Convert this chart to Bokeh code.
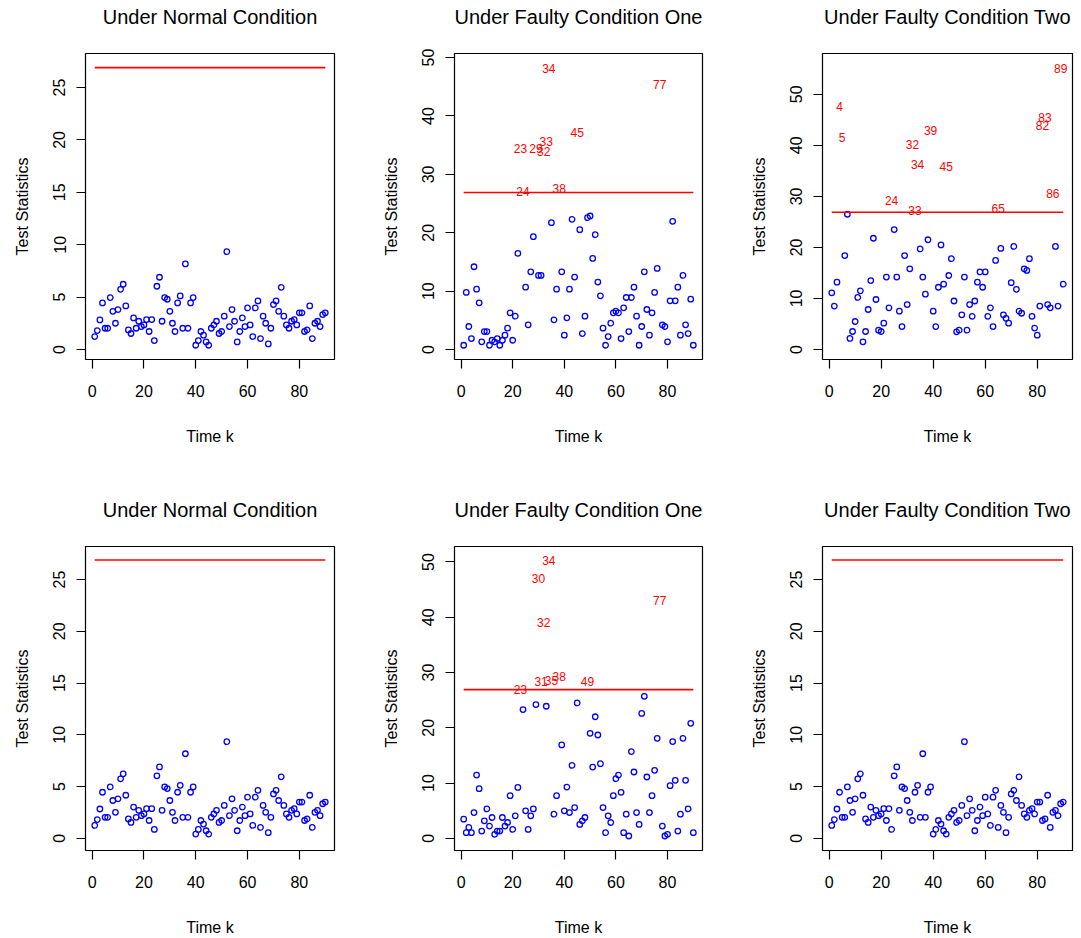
import numpy as np
from bokeh.plotting import figure
from bokeh.layouts import column, row
from bokeh.models import Range1d, FixedTicker, ColumnDataSource, Title
from bokeh.embed import file_html
from bokeh.resources import INLINE
from bokeh.core.properties import value

# ---------------- data ----------------
time_k = list(range(1, 91))
threshold = 26.9

x_ticks = [0, 20, 40, 60, 80]
y_ticks_small = [0, 5, 10, 15, 20, 25]
y_ticks_large = [0, 10, 20, 30, 40, 50]

title_normal = "Under Normal Condition"
title_fault_one = "Under Faulty Condition One"
title_fault_two = "Under Faulty Condition Two"
x_label = "Time k"
y_label = "Test Statistics"

normal_stats = [
    1.24, 1.81, 2.83, 4.45, 2.03, 2.03, 4.96, 3.65, 2.51, 3.81,
    5.75, 6.23, 4.16, 1.87, 1.53, 3.02, 2.03, 2.70, 2.19, 2.35,
    2.86, 1.72, 2.86, 0.86, 6.04, 6.90, 2.70, 4.96, 4.80, 3.65,
    2.51, 1.72, 4.45, 5.12, 2.03, 8.17, 2.03, 4.45, 4.96, 0.41,
    0.86, 1.72, 1.37, 0.73, 0.41, 2.03, 2.35, 2.70, 1.53, 1.72,
    3.18, 9.34, 2.19, 3.81, 2.70, 0.73, 1.72, 3.02, 2.19, 3.97,
    2.35, 1.24, 3.97, 4.64, 1.05, 3.18, 2.51, 0.54, 2.03, 4.29,
    4.64, 3.65, 5.94, 3.18, 2.35, 2.03, 2.70, 2.86, 2.35, 3.50,
    3.50, 1.72, 1.87, 4.16, 1.05, 2.51, 2.70, 2.19, 3.34, 3.50,
]

fault_one_top = [
    0.74, 9.78, 3.95, 1.89, 14.18, 10.35, 8.00, 1.32, 3.09, 3.09,
    0.74, 1.60, 1.32, 1.89, 0.74, 1.60, 2.46, 3.66, 6.29, 1.60,
    5.72, 16.47, 34.4, 27.1, 10.69, 4.23, 13.32, 19.33, 34.4, 12.69,
    12.69, 33.85, 35.68, 48.08, 21.73, 5.09, 10.35, 27.6, 13.32, 2.46,
    5.43, 10.35, 22.3, 12.41, 37.1, 20.53, 2.74, 5.72, 22.58, 22.87,
    15.61, 19.67, 11.55, 9.21, 3.66, 0.74, 2.23, 4.52, 6.29, 6.58,
    6.29, 1.89, 7.15, 8.92, 3.09, 8.92, 10.69, 5.72, 0.74, 3.95,
    13.32, 6.86, 2.46, 6.29, 9.78, 13.89, 45.4, 4.23, 3.95, 1.32,
    8.35, 21.96, 8.35, 10.69, 2.46, 12.69, 4.23, 2.74, 8.63, 0.74,
]

fault_two_top = [
    11.1, 8.5, 13.2, 47.6, 41.6, 18.4, 26.5, 2.16, 3.53, 5.49,
    10.2, 11.5, 1.5, 3.53, 7.84, 13.5, 21.8, 9.8, 3.79, 3.53,
    5.16, 14.2, 8.17, 29.2, 23.5, 14.2, 7.5, 4.5, 18.4, 8.8,
    15.8, 40.1, 27.2, 36.2, 19.7, 14.2, 10.85, 21.5, 42.9, 7.5,
    4.5, 12.2, 20.5, 12.8, 35.8, 14.5, 17.8, 9.5, 3.46, 3.79,
    6.8, 14.2, 3.79, 8.8, 6.5, 9.5, 13.2, 15.2, 12.2, 15.2,
    6.5, 8.17, 4.5, 17.45, 27.6, 19.8, 6.8, 6.1, 5.16, 13.1,
    20.2, 11.8, 7.5, 7.1, 15.8, 15.5, 17.8, 6.5, 4.2, 2.8,
    8.5, 43.9, 45.4, 8.8, 8.17, 30.65, 20.2, 8.5, 55.0, 12.8,
]

fault_one_bottom = [
    3.47, 1.02, 1.98, 1.02, 4.67, 11.44, 8.98, 1.32, 3.17, 5.33,
    2.22, 3.77, 0.72, 1.32, 1.32, 3.77, 2.22, 2.87, 7.72, 1.62,
    4.07, 9.22, 26.95, 23.3, 4.97, 1.62, 4.07, 5.33, 24.2, 47.1,
    28.4, 39.1, 23.9, 50.2, 28.6, 4.37, 7.72, 29.3, 16.9, 4.97,
    9.28, 4.67, 13.2, 5.57, 24.5, 2.51, 3.17, 3.77, 28.4, 19.0,
    12.9, 22.0, 18.7, 13.5, 5.57, 1.02, 4.07, 2.87, 7.72, 10.8,
    11.44, 8.32, 1.02, 4.37, 0.42, 15.7, 12.0, 4.67, 2.51, 22.6,
    25.7, 11.1, 4.67, 7.72, 12.3, 18.1, 43.1, 2.22, 0.42, 0.72,
    9.52, 17.5, 10.5, 1.32, 4.37, 18.1, 10.5, 5.33, 20.8, 1.02,
]

FONT = "Liberation Sans"


def make_panel(title, vals, ylim, yticks, width, height, bl, br, bt, bb):
    k = np.array(time_k)
    v = np.array(vals)
    p = figure(width=width, height=height,
               x_range=Range1d(-2.56, 93.56), y_range=Range1d(*ylim),
               output_backend="svg", toolbar_location=None,
               min_border_left=bl, min_border_right=br,
               min_border_top=bt, min_border_bottom=bb)
    # invisible spacer title sits between the frame and the real title
    spacer = Title(text=" ", text_font=FONT, text_font_size="16px",
                   text_color="white", standoff=0)
    p.add_layout(spacer, "above")
    p.title.text = title
    p.title.align = "center"
    p.title.text_font = FONT
    p.title.text_font_size = "20px"
    p.title.text_font_style = "normal"
    p.title.text_color = "black"
    p.title.vertical_align = "top"
    p.grid.visible = False
    p.outline_line_color = "black"
    p.outline_line_width = 1.2
    p.background_fill_color = "white"
    p.border_fill_color = "white"

    for ax in (p.xaxis[0], p.yaxis[0]):
        ax.axis_line_color = None
        ax.major_tick_out = 9
        ax.major_tick_in = 0
        ax.major_tick_line_color = "black"
        ax.major_tick_line_width = 1.2
        ax.minor_tick_line_color = None
        ax.major_label_text_font = FONT
        ax.major_label_text_font_size = "16px"
        ax.major_label_text_color = "black"
        ax.axis_label_text_font = FONT
        ax.axis_label_text_font_size = "16px"
        ax.axis_label_text_font_style = "normal"
        ax.axis_label_text_color = "black"

    p.xaxis.ticker = FixedTicker(ticks=x_ticks)
    p.yaxis.ticker = FixedTicker(ticks=yticks)
    p.xaxis.axis_label = x_label
    p.yaxis.axis_label = y_label
    p.xaxis.major_label_standoff = 16
    p.xaxis.axis_label_standoff = 28
    p.yaxis.major_label_standoff = 11
    p.yaxis.major_label_orientation = "vertical"
    p.yaxis.axis_label_standoff = 20

    below = v <= threshold
    above = ~below
    p.scatter(k[below], v[below], marker="circle", size=5.5,
              fill_color=None, line_color="#0000FF", line_width=1.3)
    src = ColumnDataSource(dict(x=k[above], y=v[above],
                                t=[str(i) for i in k[above]]))
    p.text(x="x", y="y", text="t", source=src, text_color="#FF0000",
           text_font=value(FONT), text_font_size="12px",
           text_align="center", text_baseline="middle")
    p.line([k.min(), k.max()], [threshold, threshold],
           line_color="#FF0000", line_width=1.6)
    return p


p1 = make_panel(title_normal, normal_stats, (-0.95, 28.25), y_ticks_small, 370, 469, 85, 36, 53, 110)
p2 = make_panel(title_fault_one, fault_one_top, (-1.7, 50.7), y_ticks_large, 368, 469, 84, 36, 53, 110)
p3 = make_panel(title_fault_two, fault_two_top, (-1.96, 58.0), y_ticks_large, 343, 469, 84, 9, 53, 110)
p4 = make_panel(title_normal, normal_stats, (-1.18, 28.2), y_ticks_small, 370, 469, 85, 36, 77, 86)
p5 = make_panel(title_fault_one, fault_one_bottom, (-2.2, 52.8), y_ticks_large, 368, 469, 84, 36, 77, 86)
p6 = make_panel(title_fault_two, normal_stats, (-1.18, 28.2), y_ticks_small, 343, 469, 84, 9, 77, 86)

layout = column(row(p1, p2, p3, spacing=0), row(p4, p5, p6, spacing=0), spacing=0)

open("out.html", "w").write(file_html(layout, INLINE))
